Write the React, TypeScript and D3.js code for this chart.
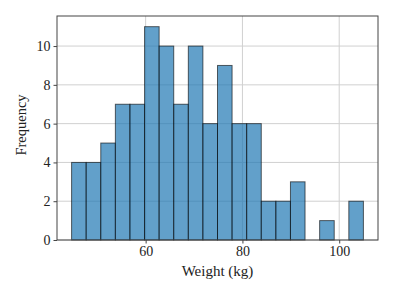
import { useEffect, useRef } from 'react'
import * as d3 from 'd3'

// histogram bins (kg) and counts
const binStart = 44.7
const binEnd = 105.0
const counts = [4, 4, 5, 7, 7, 11, 10, 7, 10, 6, 9, 6, 6, 2, 2, 3, 0, 1, 0, 2]
const xTicks = [60, 80, 100]
const yTicks = [0, 2, 4, 6, 8, 10]

export default function App() {
  const svgRef = useRef<SVGSVGElement>(null)

  useEffect(() => {
    if (!svgRef.current) return
    const svg = d3.select(svgRef.current)
    svg.selectAll('*').remove()

    const W = 395
    const H = 296
    const margin = { top: 16, right: 17, bottom: 56, left: 57 }
    const width = W - margin.left - margin.right
    const height = H - margin.top - margin.bottom

    svg.attr('width', W).attr('height', H)
    const font = '"Liberation Serif", "Times New Roman", serif'

    const step = (binEnd - binStart) / counts.length
    const bins = counts.map((c, i) => ({ x0: binStart + i * step, x1: binStart + (i + 1) * step, c }))
    const pad = (binEnd - binStart) * 0.05

    const x = d3.scaleLinear().domain([binStart - pad, binEnd + pad]).range([0, width])
    const y = d3.scaleLinear().domain([0, 11 * 1.05]).range([height, 0])

    const g = svg.append('g').attr('transform', `translate(${margin.left},${margin.top})`)

    // grid
    g.append('g').selectAll('line').data(xTicks).enter().append('line')
      .attr('x1', d => x(d)).attr('x2', d => x(d)).attr('y1', 0).attr('y2', height)
      .attr('stroke', '#d0d0d0').attr('stroke-width', 1)
    g.append('g').selectAll('line').data(yTicks).enter().append('line')
      .attr('x1', 0).attr('x2', width).attr('y1', d => y(d)).attr('y2', d => y(d))
      .attr('stroke', '#d0d0d0').attr('stroke-width', 1)

    // bars
    g.append('g').selectAll('rect').data(bins.filter(b => b.c > 0)).enter().append('rect')
      .attr('x', d => x(d.x0)).attr('width', d => x(d.x1) - x(d.x0))
      .attr('y', d => y(d.c)).attr('height', d => y(0) - y(d.c))
      .attr('fill', '#1f77b4').attr('fill-opacity', 0.7)
      .attr('stroke', '#000').attr('stroke-opacity', 0.6).attr('stroke-width', 1)

    // frame
    g.append('rect').attr('x', 0).attr('y', 0).attr('width', width).attr('height', height)
      .attr('fill', 'none').attr('stroke', '#444').attr('stroke-width', 1)

    const xAxis = g.append('g').attr('transform', `translate(0,${height})`)
      .call(d3.axisBottom(x).tickValues(xTicks).tickSize(3.5).tickPadding(3).tickFormat(d => String(d)))
    xAxis.select('.domain').remove()
    xAxis.selectAll('line').attr('stroke', '#444')
    xAxis.selectAll('text').attr('fill', '#222').style('font-family', font).style('font-size', '14px')

    const yAxis = g.append('g')
      .call(d3.axisLeft(y).tickValues(yTicks).tickSize(3.5).tickPadding(3).tickFormat(d => String(d)))
    yAxis.select('.domain').remove()
    yAxis.selectAll('line').attr('stroke', '#444')
    yAxis.selectAll('text').attr('fill', '#222').style('font-family', font).style('font-size', '14px')

    g.append('text').attr('x', width / 2).attr('y', height + 36).attr('text-anchor', 'middle')
      .style('font-family', font).style('font-size', '15px').attr('fill', '#222').text('Weight (kg)')

    g.append('text').attr('transform', 'rotate(-90)').attr('x', -height / 2 + 3).attr('y', -31)
      .attr('text-anchor', 'middle').style('font-family', font).style('font-size', '14.5px')
      .attr('fill', '#222').text('Frequency')
  }, [])

  return <svg ref={svgRef} style={{ position: 'absolute', left: 0, top: 0 }} />
}
